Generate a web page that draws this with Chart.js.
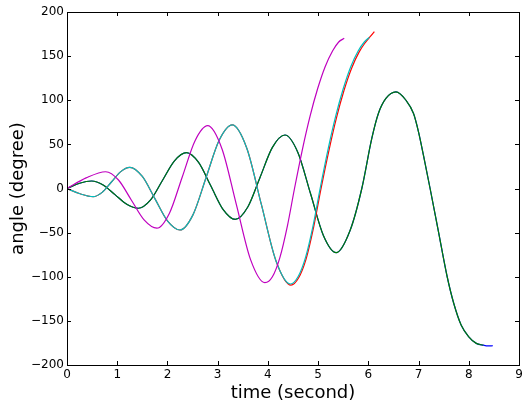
<!DOCTYPE html>
<html>
<head>
<meta charset="utf-8">
<script src="https://cdn.jsdelivr.net/npm/chart.js@4"></script>
<style>
  body { margin: 0; background: #fff; }
  #wrap { width: 522px; height: 404px; position: relative; }
</style>
</head>
<body>
<div id="wrap"><canvas id="angleChart"></canvas></div>
<script>
// tick labels
var xTicks = [0, 1, 2, 3, 4, 5, 6, 7, 8, 9];
var yTicks = [-200, -150, -100, -50, 0, 50, 100, 150, 200];

// blue run (hidden under green, longer at the end)
var tBlue = [0, 0.25, 0.49, 0.72, 0.955, 1.19, 1.42, 1.66, 1.9, 2.14, 2.38, 2.62, 2.865, 3.11, 3.35, 3.6, 3.845, 4.09, 4.34, 4.595, 4.85, 5.105, 5.36, 5.64, 5.87, 6.07, 6.2, 6.35, 6.55, 6.75, 6.9, 7.0, 7.1, 7.23, 7.4, 7.57, 7.7, 7.85, 8.0, 8.15, 8.29, 8.38, 8.48];
var yBlue = [0, 6, 8.5, 4.0, -6.95, -17.9, -22.4, -13.2, 9.1, 31.4, 40.6, 29.5, 2.8, -23.9, -35, -21, 12.8, 46.6, 60.6, 41.1, -6, -53.2, -72.7, -47, 0, 57, 85, 102, 109.5, 100, 85, 64, 37, 0, -50, -100, -130, -155, -168, -175.5, -177.5, -178.3, -178.2];

// green run
var tGreen = [0, 0.25, 0.49, 0.72, 0.955, 1.19, 1.42, 1.66, 1.9, 2.14, 2.38, 2.62, 2.865, 3.11, 3.35, 3.6, 3.845, 4.09, 4.34, 4.595, 4.85, 5.105, 5.36, 5.64, 5.87, 6.07, 6.2, 6.35, 6.55, 6.75, 6.9, 7.0, 7.1, 7.23, 7.4, 7.57, 7.7, 7.85, 8.0, 8.15, 8.29];
var yGreen = [0, 6, 8.5, 4.0, -6.95, -17.9, -22.4, -13.2, 9.1, 31.4, 40.6, 29.5, 2.8, -23.9, -35, -21, 12.8, 46.6, 60.6, 41.1, -6, -53.2, -72.7, -47, 0, 57, 85, 102, 109.5, 100, 85, 64, 37, 0, -50, -100, -130, -155, -168, -175.5, -177.5];

// red run
var tRed = [0, 0.26, 0.52, 0.70, 0.885, 1.07, 1.25, 1.5, 1.75, 2.0, 2.25, 2.51, 2.77, 3.03, 3.29, 3.58, 3.87, 4.16, 4.46, 4.61, 4.76, 4.91, 5.055, 5.215, 5.365, 5.515, 5.665, 5.815, 5.935, 6.035, 6.12];
var yRed = [0, -6, -9.3, -4.4, 7.35, 19.1, 24, 13.6, -11.5, -36.6, -47, -29.6, 12.5, 54.6, 72, 45.6, -18.1, -81.8, -109.5, -101.5, -80, -44, -1, 43, 80, 111, 136, 154.5, 165, 172, 177.7];

// cyan run
var tCyan = [0, 0.26, 0.52, 0.70, 0.885, 1.07, 1.25, 1.5, 1.75, 2.0, 2.25, 2.51, 2.77, 3.03, 3.29, 3.58, 3.87, 4.16, 4.45, 4.6, 4.75, 4.9, 5.04, 5.2, 5.35, 5.5, 5.65, 5.8, 5.92, 6.02];
var yCyan = [0, -6, -9.3, -4.4, 7.35, 19.1, 24, 13.6, -11.5, -36.6, -47, -29.6, 12.5, 54.6, 72, 45.6, -18.1, -81.8, -108.2, -100, -78, -42, 0, 45, 82, 113, 138, 156, 166, 171.3];

// magenta run
var tMagenta = [0, 0.38, 0.77, 1.025, 1.28, 1.535, 1.79, 2.04, 2.295, 2.55, 2.80, 3.085, 3.37, 3.655, 3.94, 4.09, 4.24, 4.39, 4.53, 4.69, 4.84, 4.99, 5.14, 5.29, 5.41, 5.52];
var yMagenta = [0, 12, 19, 9.6, -13, -35.6, -45, -28, 13.1, 54.2, 71.2, 45.1, -17.75, -80.6, -106.7, -100, -78, -42, 0, 45, 82, 113, 138, 156, 166, 170.2];

function pts(ts, ys) {
	return ts.map(function (t, i) { return {x: t, y: ys[i]}; });
}

function line(ts, ys, color) {
	return {
		data: pts(ts, ys),
		borderColor: color,
		borderWidth: 1.2,
		pointRadius: 0,
		fill: false,
		cubicInterpolationMode: 'monotone'
	};
}

// box round the plot and ticks pointing inwards, like the old matplotlib look
var frame = {
	id: 'frame',
	afterDraw: function (chart) {
		var ctx = chart.ctx, a = chart.chartArea;
		var x = chart.scales.x, y = chart.scales.y;
		ctx.save();
		ctx.strokeStyle = '#000';
		ctx.lineWidth = 1;
		ctx.beginPath();
		x.ticks.forEach(function (t) {
			var px = Math.round(x.getPixelForValue(t.value)) + 0.5;
			ctx.moveTo(px, a.bottom); ctx.lineTo(px, a.bottom - 4);
			ctx.moveTo(px, a.top); ctx.lineTo(px, a.top + 4);
		});
		y.ticks.forEach(function (t) {
			var py = Math.round(y.getPixelForValue(t.value)) + 0.5;
			ctx.moveTo(a.left, py); ctx.lineTo(a.left + 4, py);
			ctx.moveTo(a.right, py); ctx.lineTo(a.right - 4, py);
		});
		ctx.stroke();
		ctx.strokeRect(Math.round(a.left) + 0.5, Math.round(a.top) + 0.5,
			Math.round(a.right - a.left), Math.round(a.bottom - a.top));
		ctx.restore();
	}
};

var font = 'DejaVu Sans';
Chart.defaults.color = '#000';

var context = document.getElementById('angleChart').getContext('2d');
var myChart = new Chart(context, {
	type: 'line',
	data: {
		// magenta first so it is on top, blue last so green hides it
		datasets: [
			line(tMagenta, yMagenta, '#bf00bf'),
			line(tCyan, yCyan, '#00bfbf'),
			line(tRed, yRed, '#ff0000'),
			line(tGreen, yGreen, '#008000'),
			line(tBlue, yBlue, '#0000ff')
		]
	},
	options: {
		responsive: true,
		maintainAspectRatio: false,
		animation: false,
		layout: {padding: {left: 0, right: 3, top: 12, bottom: 0}},
		plugins: {
			legend: {display: false},
			tooltip: {enabled: false}
		},
		scales: {
			x: {
				type: 'linear',
				min: 0,
				max: 9,
				afterBuildTicks: function (s) { s.ticks = xTicks.map(function (v) { return {value: v}; }); },
				afterFit: function (s) { s.height = 39; s.paddingLeft = 0; s.paddingRight = 0; },
				grid: {display: false, drawTicks: false},
				border: {display: false},
				ticks: {
					padding: 3,
					maxRotation: 0,
					font: {family: font, size: 12},
					callback: function (v) { return String(v); }
				},
				title: {
					display: true,
					text: 'time (second)',
					font: {family: font, size: 18},
					padding: {top: 0, bottom: 0}
				}
			},
			y: {
				min: -200,
				max: 200,
				afterBuildTicks: function (s) { s.ticks = yTicks.map(function (v) { return {value: v}; }); },
				afterFit: function (s) { s.width = 67; s.paddingTop = 0; s.paddingBottom = 0; },
				grid: {display: false, drawTicks: false},
				border: {display: false},
				ticks: {
					padding: 3,
					font: {family: font, size: 12},
					callback: function (v) { return String(v).replace('-', '\u2212'); }
				},
				title: {
					display: true,
					text: 'angle (degree)',
					font: {family: font, size: 18},
					padding: {top: 8, bottom: 0}
				}
			}
		}
	},
	plugins: [frame]
});
</script>
</body>
</html>
